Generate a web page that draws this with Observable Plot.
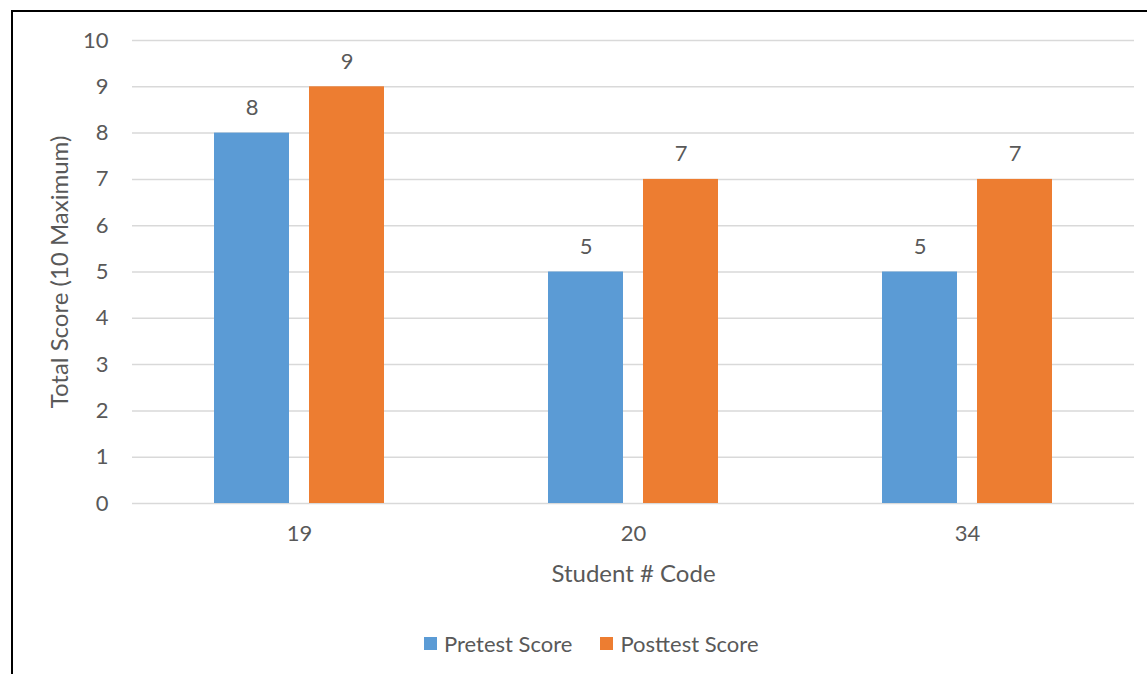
<!DOCTYPE html>
<html>
<head>
<meta charset="utf-8">
<script src="https://cdn.jsdelivr.net/npm/d3@7"></script>
<script src="https://cdn.jsdelivr.net/npm/@observablehq/plot@0.6"></script>
<style>
  html, body { margin: 0; padding: 0; background: #fff; }
  body { width: 1147px; height: 674px; position: relative; overflow: hidden; font-family: Lato, "Open Sans", sans-serif; }
  #frame { position: absolute; left: 11px; top: 10px; width: 1200px; height: 700px; border-left: 2px solid #000; border-top: 2px solid #000; }
  #chart { position: absolute; left: 0; top: 0; }
  #legend { position: absolute; left: 424px; top: 630px; display: flex; align-items: center; font-size: 22px; color: #595959; }
  .sw { width: 13px; height: 13px; display: inline-block; margin-right: 7px; }
  .item { display: flex; align-items: center; margin-right: 28px; }
</style>
</head>
<body>
<div id="frame"></div>
<div id="chart"></div>
<div id="legend"></div>
<script>
const students = ["19", "20", "34"];
const seriesNames = ["Pretest Score", "Posttest Score"];
const pretest = [8, 5, 5];
const posttest = [9, 7, 7];
const seriesColors = ["#5b9bd5", "#ed7d31"];
const yTicks = [0, 1, 2, 3, 4, 5, 6, 7, 8, 9, 10];

const data = [];
students.forEach((s, i) => {
  data.push({student: s, series: seriesNames[0], value: pretest[i]});
  data.push({student: s, series: seriesNames[1], value: posttest[i]});
});

const textColor = "#595959";
const chart = Plot.plot({
  width: 1147,
  height: 610,
  marginLeft: 132,
  marginRight: 13,
  marginTop: 40,
  marginBottom: 107,
  style: {fontFamily: "Lato, 'Open Sans', sans-serif", fontSize: "22px", color: textColor, background: "transparent"},
  fx: {domain: students, padding: 0},
  x: {domain: seriesNames, paddingInner: 0.2105, paddingOuter: 0.8526, axis: null},
  y: {domain: [0, 10]},
  color: {domain: seriesNames, range: seriesColors},
  marks: [
    Plot.ruleY(yTicks, {stroke: "#d9d9d9", strokeWidth: 1.5}),
    Plot.barY(data, {fx: "student", x: "series", y: "value", fill: "series"}),
    Plot.text(data, {fx: "student", x: "series", y: "value", text: d => String(d.value), dy: -25, fill: textColor, fontSize: 22}),
    Plot.axisY({ticks: yTicks, tickSize: 0, tickPadding: 24, fontSize: 22, fill: textColor,
      label: "Total Score (10 Maximum)", labelAnchor: "center", labelOffset: 82, labelArrow: "none"}),
    Plot.axisFx({anchor: "bottom", tickSize: 0, tickPadding: 22, fontSize: 22, fill: textColor,
      label: "Student # Code", labelAnchor: "center", labelOffset: 78, labelArrow: "none"})
  ]
});
d3.select(chart).selectAll('[aria-label="y-axis label"], [aria-label="fx-axis label"]').attr("font-size", 24);
document.getElementById("chart").appendChild(chart);

const legend = document.getElementById("legend");
seriesNames.forEach((name, i) => {
  const item = document.createElement("div");
  item.className = "item";
  const sw = document.createElement("span");
  sw.className = "sw";
  sw.style.background = seriesColors[i];
  item.appendChild(sw);
  item.appendChild(document.createTextNode(name));
  legend.appendChild(item);
});
</script>
</body>
</html>
